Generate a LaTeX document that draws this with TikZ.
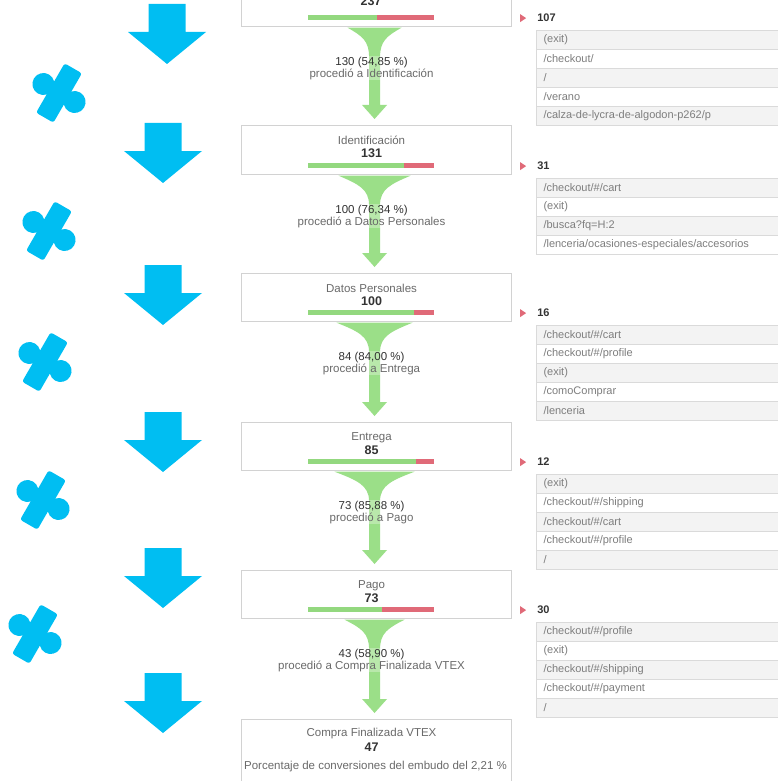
\documentclass[tikz,border=0pt]{standalone}
\usepackage{fontspec}
\setmainfont{Liberation Sans}
\usetikzlibrary{calc}

\definecolor{gablue}{HTML}{00BEF2}
\definecolor{funnelgreen}{HTML}{9BDF88}
\definecolor{bargreen}{HTML}{93D87F}
\definecolor{barred}{HTML}{E06A78}
\definecolor{boxline}{HTML}{D2D2D2}
\definecolor{rowline}{HTML}{DADADA}
\definecolor{rowshade}{HTML}{F3F3F3}
\definecolor{textgrey}{HTML}{6A6A6A}
\definecolor{textdark}{HTML}{333333}
\definecolor{listgrey}{HTML}{7E7E7E}

% green funnel from one step box down to the next one
% #1 start coordinate (bottom of the box), #2 next box, #3 half width of the mouth
\newcommand\flowfunnel[3]{%
  \coordinate (#1e) at (#2.north -| #1);
  \fill[funnelgreen] ($(#1)+(-#3,0.6)$) -- ($(#1)+(#3,0.6)$)
    .. controls ($(#1)+(0.45*#3,9)$) and ($(#1)+(5.5,14)$) .. ($(#1)+(5.5,30)$)
    -- ($(#1e)+(5.5,-20)$) -- ($(#1e)+(12.5,-20)$) -- ($(#1e)+(0,-6)$)
    -- ($(#1e)+(-12.5,-20)$) -- ($(#1e)+(-5.5,-20)$) -- ($(#1)+(-5.5,30)$)
    .. controls ($(#1)+(-5.5,14)$) and ($(#1)+(-0.45*#3,9)$) .. cycle;
}

% progress bar inside a step box: #1 box, #2 length of the green part
\newcommand\stepbar[2]{%
  \fill[bargreen] ($(#1.south west)+(67,-12)$) rectangle ($(#1.south west)+(67+#2,-7)$);
  \fill[barred] ($(#1.south west)+(67+#2,-12)$) rectangle ($(#1.south west)+(193,-7)$);
}

% exit list beside a step box: #1 prefix, #2 box, #3 count, #4 pages
\newcommand\exitpanel[4]{%
  \fill[barred] ($(#2.south east)+(8,-13)$) -- ($(#2.south east)+(14,-9)$)
    -- ($(#2.south east)+(8,-5)$) -- cycle;
  \node[exitcount] (#1c) at ($(#2.south east)+(25,-9)$) {#3};
  \foreach \row [count=\k] in {#4} {
    \pgfmathsetmacro\rowtop{3+19*(\k-1)}
    \ifodd\k \def\rowfill{rowshade}\else\def\rowfill{white}\fi
    \node[exitrow, fill=\rowfill] (#1r\k) at ($(#2.south east)+(24,\rowtop)$) {\row};
  }
}

\begin{document}
\begin{tikzpicture}[x=1pt, y=-1pt,
  stepbox/.style={draw=boxline, line width=1.1pt, fill=white, inner sep=0,
    anchor=north west, minimum width=270},
  steptitle/.style={inner sep=0, text=textgrey, font=\fontsize{11.5}{12}\selectfont},
  stepnum/.style={inner sep=0, text=textdark, font=\bfseries\fontsize{12.5}{13}\selectfont},
  flowlabel/.style={align=center, inner sep=1, text=textgrey,
    font=\fontsize{11.5}{12}\selectfont, fill=white, fill opacity=0.3, text opacity=1},
  exitcount/.style={anchor=west, inner sep=0, text=textdark,
    font=\bfseries\fontsize{11}{13}\selectfont},
  exitrow/.style={draw=rowline, line width=0.8pt, anchor=north west, minimum height=19,
    text width=236, inner xsep=7, inner ysep=0, align=left, text=listgrey,
    font=\fontsize{11}{13}\selectfont},
  bluearrow/.pic={\fill[gablue] (-18.5,0) -- (18.5,0) -- (18.5,28) -- (39,28)
    -- (0,60) -- (-39,28) -- (-18.5,28) -- cycle;},
  puzzle/.pic={\begin{scope}[rotate=-30]
    \fill[gablue, rounded corners=2.5] (-10,-28.5) rectangle (10,28.5);
    \fill[gablue] (-18,0) circle (11) (18,0) circle (11);
    \end{scope}}
]
\useasboundingbox (0,0) rectangle (777,781);

% step boxes
\node[stepbox, minimum height=56] (b1) at (241,-30) {};
\node[stepbox, minimum height=49] (b2) at (241,125) {};
\node[stepbox, minimum height=48] (b3) at (241,273) {};
\node[stepbox, minimum height=48] (b4) at (241,422) {};
\node[stepbox, minimum height=48] (b5) at (241,570) {};
\node[stepbox, minimum height=80] (b6) at (241,719) {};

% funnels between the steps
\coordinate (f1) at ($(b1.south)+(-2,0)$);
\coordinate (f2) at ($(b2.south)+(-2,0)$);
\coordinate (f3) at ($(b3.south)+(-2,0)$);
\coordinate (f4) at ($(b4.south)+(-2,0)$);
\coordinate (f5) at ($(b5.south)+(-2,0)$);
\flowfunnel{f1}{b2}{27}
\flowfunnel{f2}{b3}{36}
\flowfunnel{f3}{b4}{38}
\flowfunnel{f4}{b5}{40}
\flowfunnel{f5}{b6}{30}

% step contents
\node[stepnum] (n1) at (371,1) {237};
\stepbar{b1}{69.1}

\node[steptitle] (t2) at ($(b2.north)+(-5,15.5)$) {Identificación};
\node[stepnum] (n2) at ($(b2.north)+(-5,28)$) {131};
\stepbar{b2}{96.2}

\node[steptitle] (t3) at ($(b3.north)+(-5,15.5)$) {Datos Personales};
\node[stepnum] (n3) at ($(b3.north)+(-5,28)$) {100};
\stepbar{b3}{105.8}

\node[steptitle] (t4) at ($(b4.north)+(-5,15.5)$) {Entrega};
\node[stepnum] (n4) at ($(b4.north)+(-5,28)$) {85};
\stepbar{b4}{108.2}

\node[steptitle] (t5) at ($(b5.north)+(-5,15.5)$) {Pago};
\node[stepnum] (n5) at ($(b5.north)+(-5,28)$) {73};
\stepbar{b5}{74.2}

\node[steptitle] (t6) at ($(b6.north)+(-5,15)$) {Compra Finalizada VTEX};
\node[stepnum] (n6) at ($(b6.north)+(-5,28)$) {47};
\node[steptitle] (p6) at ($(b6.north)+(-1,48)$) {Porcentaje de conversiones del embudo del 2,21 \%};

% flow labels
\node[flowlabel] (l1) at ($(f1)+(-3,41)$) {{\color{textdark}130 (54,85 \%)}\\procedió a Identificación};
\node[flowlabel] (l2) at ($(f2)+(-3,41)$) {{\color{textdark}100 (76,34 \%)}\\procedió a Datos Personales};
\node[flowlabel] (l3) at ($(f3)+(-3,41)$) {{\color{textdark}84 (84,00 \%)}\\procedió a Entrega};
\node[flowlabel] (l4) at ($(f4)+(-3,41)$) {{\color{textdark}73 (85,88 \%)}\\procedió a Pago};
\node[flowlabel] (l5) at ($(f5)+(-3,41)$) {{\color{textdark}43 (58,90 \%)}\\procedió a Compra Finalizada VTEX};

% exit pages
\exitpanel{x1}{b1}{107}{{(exit)},{/checkout/},{/},{/verano},{/calza-de-lycra-de-algodon-p262/p}}
\exitpanel{x2}{b2}{31}{{/checkout/\#/cart},{(exit)},{/busca?fq=H:2},{/lenceria/ocasiones-especiales/accesorios}}
\exitpanel{x3}{b3}{16}{{/checkout/\#/cart},{/checkout/\#/profile},{(exit)},{/comoComprar},{/lenceria}}
\exitpanel{x4}{b4}{12}{{(exit)},{/checkout/\#/shipping},{/checkout/\#/cart},{/checkout/\#/profile},{/}}
\exitpanel{x5}{b5}{30}{{/checkout/\#/profile},{(exit)},{/checkout/\#/shipping},{/checkout/\#/payment},{/}}

% blue down arrows
\pic at (167,4) {bluearrow};
\pic at (163,123) {bluearrow};
\pic at (163,265) {bluearrow};
\pic at (163,412) {bluearrow};
\pic at (163,548) {bluearrow};
\pic at (163,673) {bluearrow};

% puzzle pieces
\pic at (59,93) {puzzle};
\pic at (49,231) {puzzle};
\pic at (45,362) {puzzle};
\pic at (43,500) {puzzle};
\pic at (35,634) {puzzle};
\end{tikzpicture}
\end{document}
